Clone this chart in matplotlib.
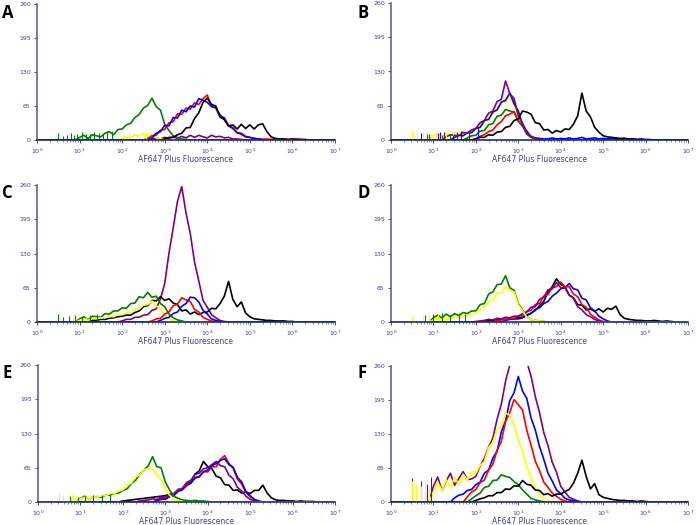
import numpy as np
import matplotlib
matplotlib.use("Agg")
import matplotlib.pyplot as plt

# channel grid: log10 of fluorescence, one point every 0.1 decade
grid = np.round(np.arange(0, 7.01, 0.1), 1)

# each series = (log10 of first channel, counts)
# ---- panel A
A_green = (1.0, [5, 9, 3, 10, 8, 6, 13, 16, 10, 20, 21, 29, 32, 43, 49, 61, 66, 80, 64, 57, 30, 18, 8, 5, 2, 1, 0])
A_yellow = (2.0, [2, 6, 4, 10, 8, 12, 7, 11, 4, 3, 1, 0])
A_purple = (2.6, [1, 2, 4, 2, 5, 3, 6, 3, 7, 4, 9, 5, 9, 6, 4, 9, 6, 7, 4, 5, 2, 2, 1, 0])
A_red = (2.6, [3, 8, 9, 19, 20, 33, 35, 50, 49, 61, 59, 71, 68, 79, 86, 64, 61, 44, 43, 27, 24, 14, 13, 7, 5, 3, 2, 1, 2, 1, 2, 1, 2, 1, 1, 2, 1, 0])
A_blue = (2.7, [4, 13, 16, 28, 27, 43, 42, 57, 54, 65, 63, 79, 76, 72, 64, 62, 48, 40, 27, 22, 14, 11, 6, 5, 3, 2, 1, 0])
A_black = (3.0, [2, 5, 5, 10, 13, 23, 24, 41, 52, 72, 80, 68, 65, 44, 39, 27, 29, 21, 30, 22, 29, 21, 29, 31, 16, 6, 3, 2, 2, 1, 2, 1, 1, 1, 0])
A_green_spk = ([0.5, 0.6, 0.7, 0.8, 0.88, 0.95, 1.05, 1.15, 1.25, 1.35, 1.45, 1.55, 1.65, 1.75],
               [13, 8, 10, 14, 9, 12, 15, 11, 12, 16, 14, 12, 18, 17])
A_yellow_spk = ([2.05, 2.15, 2.35, 2.55], [10, 13, 12, 15])

# ---- panel B
B_yellow = (1.0, [8, 12, 6, 14, 8, 15, 10, 17, 13, 20, 21, 31, 33, 48, 49, 63, 67, 82, 78, 67, 43, 31, 15, 9, 4, 2, 0])
B_purple = (1.3, [6, 10, 9, 8, 14, 13, 19, 22, 33, 37, 51, 55, 73, 77, 112, 88, 79, 46, 32, 13, 7, 3, 1, 0])
B_blue = (1.5, [5, 9, 8, 14, 14, 22, 24, 37, 39, 53, 57, 72, 75, 89, 69, 55, 29, 17, 6, 4, 3, 2, 2, 4, 2, 3, 2, 4, 2, 3, 5, 2, 3, 4, 2, 3, 2, 4, 2, 2, 3, 2, 2, 1, 2, 1, 1, 0])
B_red = (2.0, [3, 7, 10, 16, 19, 29, 35, 46, 49, 54, 39, 29, 13, 8, 3, 1, 0])
B_green = (1.8, [4, 8, 9, 17, 18, 29, 31, 45, 47, 58, 55, 53, 35, 26, 11, 5, 2, 0])
B_black = (2.0, [2, 5, 5, 10, 9, 15, 16, 24, 26, 37, 40, 55, 53, 49, 33, 31, 19, 20, 13, 18, 15, 21, 20, 30, 46, 89, 55, 44, 24, 15, 8, 6, 5, 4, 3, 3, 2, 2, 1, 1, 0])
B_yellow_spk = ([0.5, 0.62, 0.75, 0.85, 0.95, 1.05, 1.15, 1.3, 1.45], [19, 12, 15, 18, 14, 16, 13, 17, 15])
B_purple_spk = ([0.9, 1.1, 1.25, 1.55, 1.85], [12, 14, 15, 16, 19])
B_blue_spk = ([0.7, 1.15, 1.45, 1.65, 2.05], [14, 15, 10, 17, 24])
B_green_spk = ([0.85, 1.2, 1.4], [12, 10, 12])

# ---- panel C
C_purple = (2.0, [2, 5, 5, 9, 9, 13, 14, 22, 25, 44, 73, 131, 179, 229, 257, 207, 168, 114, 78, 41, 28, 14, 8, 3, 1, 0])
C_black = (1.2, [2, 3, 3, 5, 5, 7, 8, 10, 11, 13, 13, 18, 21, 29, 31, 41, 40, 48, 41, 44, 36, 33, 21, 23, 15, 19, 14, 18, 19, 26, 25, 35, 49, 77, 43, 29, 38, 17, 10, 6, 5, 4, 3, 3, 2, 2, 2, 1, 1, 0])
C_green = (1.0, [6, 10, 4, 11, 10, 9, 16, 15, 21, 21, 27, 26, 35, 36, 48, 46, 56, 47, 49, 35, 29, 15, 8, 4, 2, 0])
C_yellow = (1.0, [3, 6, 3, 7, 7, 8, 8, 11, 10, 14, 14, 18, 18, 24, 25, 32, 33, 40, 31, 25, 13, 6, 2, 0])
C_red = (2.7, [2, 6, 7, 15, 19, 31, 34, 46, 42, 39, 24, 19, 9, 5, 2, 0])
C_blue = (2.9, [3, 7, 9, 16, 19, 30, 35, 47, 46, 38, 22, 15, 6, 3, 1, 0])
C_green_spk = ([0.5, 0.6, 0.75, 0.9, 1.05, 1.25, 1.4], [15, 9, 12, 14, 10, 13, 16])
C_yellow_spk = ([0.85, 1.15], [10, 9])

# ---- panel D
D_green = (1.0, [8, 13, 8, 15, 10, 16, 12, 18, 16, 21, 21, 33, 35, 53, 57, 71, 72, 88, 65, 60, 35, 23, 10, 5, 3, 2, 1, 0])
D_yellow = (1.0, [4, 7, 4, 8, 7, 10, 9, 12, 12, 16, 17, 24, 27, 39, 41, 55, 55, 67, 59, 57, 33, 21, 9, 5, 3, 2, 1, 0])
D_purple = (2.0, [1, 2, 3, 5, 4, 7, 6, 9, 8, 11, 11, 16, 19, 28, 29, 43, 47, 61, 63, 75, 65, 65, 51, 45, 29, 23, 14, 10, 5, 2, 0])
D_red = (2.5, [3, 4, 5, 7, 7, 11, 12, 20, 22, 33, 35, 49, 52, 65, 67, 76, 67, 67, 53, 48, 33, 28, 15, 9, 4, 1, 0])
D_blue = (2.7, [3, 5, 6, 9, 9, 14, 16, 24, 27, 35, 39, 49, 55, 63, 65, 73, 63, 61, 45, 42, 27, 21, 11, 6, 2, 0])
D_black = (2.2, [2, 3, 3, 4, 5, 5, 6, 6, 6, 8, 12, 17, 22, 31, 39, 57, 67, 82, 71, 67, 51, 46, 33, 32, 23, 25, 20, 25, 19, 26, 24, 30, 14, 7, 5, 4, 3, 3, 2, 2, 3, 2, 1, 2, 1, 0])
D_green_spk = ([0.8, 1.0, 1.2, 1.4, 1.6, 1.75], [14, 15, 17, 14, 18, 16])
D_yellow_spk = ([0.5, 0.75, 0.9, 1.1, 1.3], [12, 14, 13, 15, 12])

# ---- panel E
E_green = (1.0, [7, 11, 5, 10, 10, 9, 13, 13, 16, 17, 22, 25, 35, 41, 53, 61, 69, 86, 67, 65, 38, 23, 11, 7, 4, 3, 2, 3, 2, 2, 1, 0])
E_yellow = (1.0, [6, 9, 6, 10, 9, 12, 12, 16, 16, 21, 23, 32, 36, 48, 52, 62, 62, 64, 53, 43, 24, 13, 6, 3, 1, 0])
E_black = (2.0, [2, 3, 4, 5, 6, 7, 8, 9, 10, 11, 12, 15, 15, 22, 24, 35, 38, 53, 59, 77, 67, 63, 49, 46, 33, 32, 22, 23, 17, 19, 16, 22, 22, 32, 17, 8, 4, 3, 3, 2, 2, 1, 2, 1, 1, 1, 0])
E_red = (2.8, [3, 6, 6, 11, 13, 23, 24, 35, 35, 47, 47, 58, 57, 67, 67, 81, 88, 73, 64, 43, 34, 18, 10, 4, 1, 0])
E_blue = (2.8, [2, 5, 5, 10, 12, 20, 23, 31, 36, 45, 49, 57, 61, 69, 73, 79, 82, 71, 66, 47, 38, 20, 12, 5, 2, 0])
E_purple = (2.4, [2, 3, 4, 6, 5, 9, 9, 14, 16, 24, 26, 37, 41, 52, 55, 63, 65, 71, 77, 69, 67, 51, 44, 28, 21, 11, 5, 2, 0])
E_green_spk = ([0.75, 0.95, 1.1, 1.3, 1.5, 1.7], [12, 10, 12, 14, 13, 16])
E_yellow_spk = ([0.5, 0.6, 0.8, 0.9, 1.2, 1.4], [18, 14, 15, 11, 13, 15])

# ---- panel F
F_purple = (1.0, [30, 48, 22, 40, 55, 32, 45, 58, 43, 44, 49, 69, 83, 105, 122, 158, 187, 231, 262, 276, 280, 278, 268, 241, 202, 171, 133, 108, 76, 57, 30, 19, 9, 5, 2, 0])
F_blue = (1.5, [8, 13, 15, 22, 24, 33, 38, 55, 61, 84, 97, 134, 155, 194, 209, 240, 212, 198, 161, 138, 106, 82, 55, 40, 23, 16, 7, 4, 2, 1, 0])
F_red = (1.8, [10, 19, 24, 37, 42, 61, 72, 99, 116, 154, 171, 196, 186, 176, 137, 109, 78, 60, 38, 28, 17, 11, 5, 2, 0])
F_yellow = (1.0, [20, 38, 22, 43, 27, 48, 32, 53, 42, 58, 55, 70, 77, 104, 114, 139, 146, 170, 166, 147, 118, 96, 68, 47, 26, 15, 6, 3, 1, 0])
F_green = (1.9, [6, 12, 17, 28, 30, 41, 42, 52, 49, 47, 39, 33, 23, 15, 7, 4, 2, 0])
F_black = (2.0, [3, 6, 8, 12, 12, 18, 18, 25, 24, 31, 30, 41, 34, 32, 23, 22, 14, 16, 11, 15, 15, 20, 24, 36, 55, 80, 49, 25, 35, 14, 9, 7, 5, 4, 3, 3, 2, 2, 1, 2, 1, 0])
F_purple_spk = ([0.5, 0.7, 0.85, 0.95], [45, 40, 35, 48])
F_yellow_spk = ([0.5, 0.6, 0.7, 0.8, 0.9], [40, 35, 30, 38, 28])

cols = {"purple": "#800080", "blue": "#0000ff", "red": "#ff0000",
        "yellow": "#ffff00", "green": "#008000", "black": "#000000"}

panels = [
    ("A", [("purple", A_purple), ("yellow", A_yellow), ("green", A_green),
           ("red", A_red), ("blue", A_blue), ("black", A_black)],
     [("green", A_green_spk), ("yellow", A_yellow_spk)]),
    ("B", [("green", B_green), ("red", B_red), ("yellow", B_yellow),
           ("blue", B_blue), ("purple", B_purple), ("black", B_black)],
     [("yellow", B_yellow_spk), ("purple", B_purple_spk), ("blue", B_blue_spk), ("green", B_green_spk)]),
    ("C", [("purple", C_purple), ("black", C_black), ("green", C_green),
           ("yellow", C_yellow), ("red", C_red), ("blue", C_blue)],
     [("green", C_green_spk), ("yellow", C_yellow_spk)]),
    ("D", [("black", D_black), ("blue", D_blue), ("red", D_red),
           ("purple", D_purple), ("green", D_green), ("yellow", D_yellow)],
     [("green", D_green_spk), ("yellow", D_yellow_spk)]),
    ("E", [("black", E_black), ("purple", E_purple), ("red", E_red),
           ("blue", E_blue), ("green", E_green), ("yellow", E_yellow)],
     [("green", E_green_spk), ("yellow", E_yellow_spk)]),
    ("F", [("purple", F_purple), ("blue", F_blue), ("red", F_red),
           ("yellow", F_yellow), ("green", F_green), ("black", F_black)],
     [("purple", F_purple_spk), ("yellow", F_yellow_spk)]),
]

W, H = 696, 525
# axes boxes in pixels: left, top, right, bottom
boxes = {"A": (37, 4, 335, 140), "B": (391, 3, 688, 140),
         "C": (37, 185, 335, 322), "D": (391, 185, 688, 322),
         "E": (38, 365, 335, 502), "F": (391, 366, 688, 502)}
letter_pos = {"A": (2, 4), "B": (357, 4), "C": (2, 184), "D": (357, 184),
              "E": (2, 364), "F": (357, 364)}

axcol = "#1f2a7a"
txtcol = "#3a3f9e"

fig = plt.figure(figsize=(W / 100, H / 100), dpi=100)

for name, series, spikes in panels:
    l, t, r, b = boxes[name]
    ax = fig.add_axes([l / W, 1 - b / H, (r - l) / W, (b - t) / H])
    for c, (u0, vals) in series:
        y = np.zeros(len(grid))
        i0 = int(round(u0 * 10))
        y[i0:i0 + len(vals)] = vals
        ax.plot(10 ** grid, y, color=cols[c], lw=1.2)
    for c, (us, hs) in spikes:
        ax.vlines(10 ** np.array(us), 0, hs, color=cols[c], lw=0.8)
    ax.set_xscale("log")
    ax.set_xlim(1, 1e7)
    ax.set_ylim(0, 260)
    ax.set_yticks([0, 65, 130, 195, 260])
    ax.set_xticks([10 ** k for k in range(8)])
    for s in ["top", "right"]:
        ax.spines[s].set_visible(False)
    ax.spines["left"].set_color("#5a63a8")
    ax.spines["left"].set_linewidth(1.2)
    ax.spines["bottom"].set_color(axcol)
    ax.spines["bottom"].set_linewidth(1.2)
    ax.tick_params(axis="both", which="major", labelsize=4.5, colors=axcol,
                   labelcolor=txtcol, length=2.5, width=0.6, pad=2)
    ax.tick_params(axis="x", which="minor", length=1.2, width=0.4, colors=axcol)
    ax.set_xlabel("AF647 Plus Fluorescence", fontsize=5.5, color=txtcol, labelpad=-0.5)
    lx, ly = letter_pos[name]
    fig.text(lx / W, 1 - ly / H, name, fontsize=12, fontweight="bold",
             family="Open Sans", va="top", ha="left")

fig.savefig("out.png", dpi=100)
